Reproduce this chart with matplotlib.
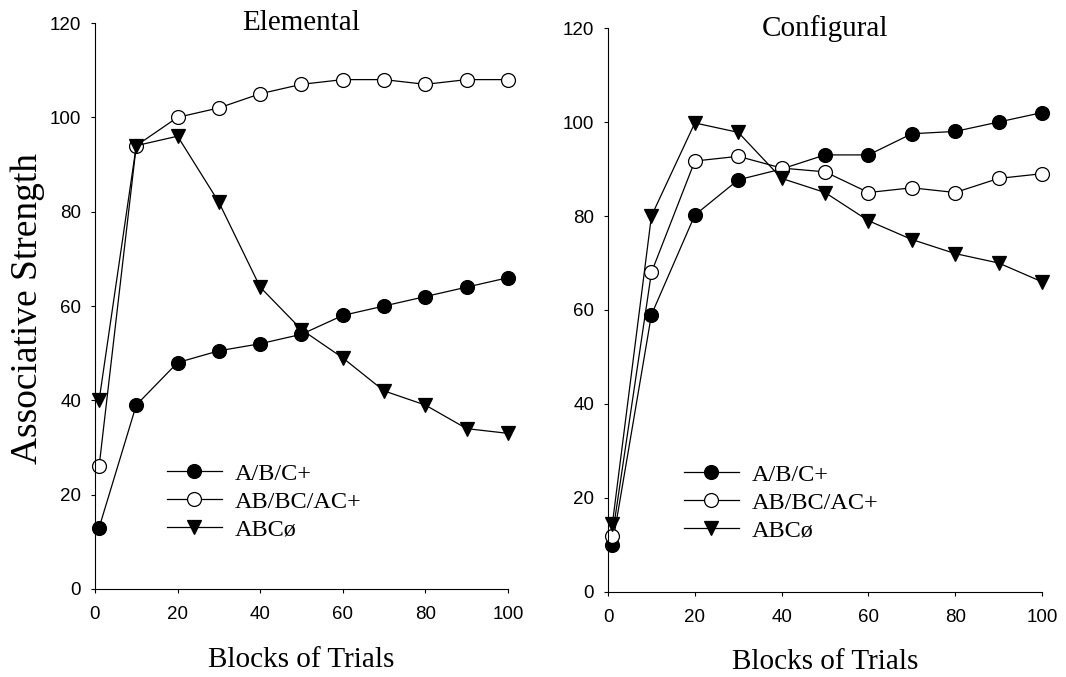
import matplotlib
matplotlib.use("Agg")
import matplotlib.pyplot as plt

# blocks of trials
blocks = [1, 10, 20, 30, 40, 50, 60, 70, 80, 90, 100]

series_names = ["A/B/C+", "AB/BC/AC+", "ABCø"]

# Elemental model
elem_single = [13, 39, 48, 50.5, 52, 54, 58, 60, 62, 64, 66]
elem_compound = [26, 94, 100, 102, 105, 107, 108, 108, 107, 108, 108]
elem_triple = [40, 94, 96, 82, 64, 55, 49, 42, 39, 34, 33]

# Configural model
conf_single = [10, 59, 80.2, 87.7, 90, 93, 93, 97.5, 98, 100, 102]
conf_compound = [12, 68, 91.7, 92.7, 90.2, 89.4, 85, 86, 85, 88, 89]
conf_triple = [14.5, 80, 99.8, 97.8, 88, 85, 79, 75, 72, 70, 66]

serif = "Liberation Serif"
sans = "Liberation Sans"

fig = plt.figure(figsize=(10.66, 6.77), dpi=100)
ax1 = fig.add_axes([0.0891, 0.1300, 0.3874, 0.836])
ax2 = fig.add_axes([0.5704, 0.1256, 0.4071, 0.833])

styles = [
    dict(marker="o", markerfacecolor="black", markeredgecolor="black"),
    dict(marker="o", markerfacecolor="white", markeredgecolor="black"),
    dict(marker="v", markerfacecolor="black", markeredgecolor="black"),
]


def draw(ax, data, title, leg_anchor):
    for vals, name, st in zip(data, series_names, styles):
        ax.plot(blocks, vals, color="black", lw=0.9, markersize=10,
                markeredgewidth=0.9, label=name, clip_on=False, **st)
    ax.set_xlim(0, 100)
    ax.set_ylim(0, 120)
    ax.set_xticks(range(0, 101, 20))
    ax.set_yticks(range(0, 121, 20))
    for s in ["top", "right"]:
        ax.spines[s].set_visible(False)
    for s in ["left", "bottom"]:
        ax.spines[s].set_linewidth(0.8)
    ax.tick_params(direction="out", length=3, width=0.8, labelsize=13.5)
    ax.tick_params(axis="y", pad=7)
    ax.tick_params(axis="x", pad=9)
    for lab in ax.get_xticklabels() + ax.get_yticklabels():
        lab.set_fontfamily(sans)
    ax.text(0.5, 1.0, title, transform=ax.transAxes, ha="center", va="center",
            fontsize=21, family=serif)
    ax.text(0.5, -0.125, "Blocks of Trials", transform=ax.transAxes,
            ha="center", va="center", fontsize=21, family=serif)
    ax.legend(loc="center left", bbox_to_anchor=leg_anchor, frameon=False,
              prop={"family": serif, "size": 17.5}, handlelength=2.26,
              handletextpad=0.54, labelspacing=0.25, borderpad=0,
              borderaxespad=0)


draw(ax1, [elem_single, elem_compound, elem_triple], "Elemental", (0.174, 0.154))
draw(ax2, [conf_single, conf_compound, conf_triple], "Configural", (0.175, 0.158))

fig.text(28 / 1066, 1 - 308 / 677, "Associative Strength", rotation=90,
         ha="center", va="center", fontsize=27, family=serif)

fig.savefig("out.png", dpi=100)
